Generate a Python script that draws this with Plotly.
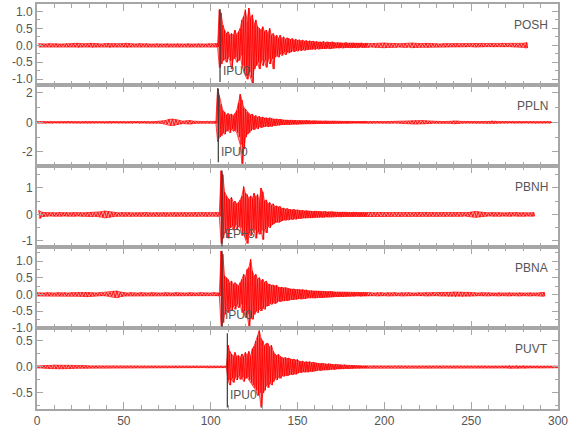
import plotly.graph_objects as go
from plotly.subplots import make_subplots

# ---------------- data ----------------
stations = ["POSH", "PPLN", "PBNH", "PBNA", "PUVT"]
phase_labels = ["IPU0", "IPU0", "EP+3", "IPU0", "IPU0"]
pick_times = [105.4, 104.4, 106.5, 106.5, 109.6]
pick_low = [-1.08, -2.7, -1.2, -0.97, -0.78]
pick_high = [1.07, 2.27, 1.66, 1.31, 0.65]
label_y = [-0.77, -1.99, -0.73, -0.62, -0.54]

y_low = [-1.17, -2.95, -1.23, -1.01, -0.81]
y_high = [1.22, 2.52, 1.83, 1.42, 0.75]
ytick_vals = [[-1, -0.5, 0, 0.5, 1], [-2, 0, 2], [-1, 0, 1], [-1, -0.5, 0, 0.5, 1], [-0.5, 0, 0.5]]
ytick_text = [["-1.0", "-0.5", "0.0", "0.5", "1.0"], ["-2", "0", "2"], ["-1", "0", "1"],
              ["-1.0", "-0.5", "0.0", "0.5", "1.0"], ["-0.5", "0.0", "0.5"]]
ytick_minor = [0.25, 1, 0.5, 0.25, 0.25]
x_ticks = [0, 50, 100, 150, 200, 250, 300]

# sample-time windows: quiet part before (2 s), active part (1 s), quiet part after (2 s)
pre_start = [1, 0, 1, 0, 0]
act_start = [104, 103, 105, 105, 108]
act_end = [189, 189, 189, 189, 189]
post_end = [283, 297, 287, 293, 301]

# ---- POSH ----
POSH_pre = [0.05, 0.04, 0.04, 0.05, 0.04, 0.05, 0.04, 0.04, 0.05, 0.04,
            0.05, 0.06, 0.05, 0.04, 0.05, 0.06, 0.05, 0.05, 0.04, 0.05,
            0.06, 0.05, 0.05, 0.04, 0.05, 0.06, 0.05, 0.04, 0.04, 0.05,
            0.04, 0.05, 0.04, 0.04, 0.05, 0.04, 0.04, 0.05, 0.04, 0.04,
            0.05, 0.04, 0.04, 0.05, 0.04, 0.04, 0.05, 0.04, 0.04, 0.05,
            0.04, 0.05]
POSH_up = [0.05, 1.05, 0.95, 0.6, 0.45, 0.35, 0.4, 0.3, 0.35, 0.3,
           0.45, 0.3, 0.4, 0.5, 0.75, 0.85, 1.05, 0.7, 1.1, 0.8,
           0.9, 0.6, 0.75, 0.55, 0.5, 0.45, 0.55, 0.4, 0.45, 0.35,
           0.5, 0.3, 0.35, 0.25, 0.3, 0.2, 0.3, 0.2, 0.25, 0.18,
           0.22, 0.2, 0.17, 0.2, 0.15, 0.18, 0.14, 0.16, 0.13, 0.15,
           0.12, 0.14, 0.11, 0.13, 0.11, 0.12, 0.1,
           0.11, 0.09, 0.1, 0.09, 0.11, 0.08, 0.1, 0.09, 0.08, 0.1,
           0.08, 0.07, 0.08, 0.07, 0.08, 0.06, 0.07, 0.08, 0.06, 0.07,
           0.06, 0.07, 0.06, 0.07, 0.06, 0.06, 0.07, 0.05, 0.06]
POSH_dn = [-0.05, -0.65, -0.55, -0.45, -0.4, -0.5, -0.35, -0.45, -0.7, -0.4,
           -0.35, -0.5, -0.45, -0.3, -0.6, -0.75, -0.9, -1.0, -0.8, -0.95,
           -1.12, -0.7, -0.6, -0.5, -0.7, -0.45, -0.6, -0.45, -0.65, -0.4,
           -0.55, -0.4, -0.7, -0.35, -0.3, -0.35, -0.25, -0.3, -0.2, -0.28,
           -0.2, -0.22, -0.2, -0.16, -0.19, -0.15, -0.17, -0.13, -0.16, -0.12,
           -0.15, -0.12, -0.13, -0.11, -0.12, -0.1, -0.12,
           -0.09, -0.11, -0.09, -0.1, -0.09, -0.1, -0.08, -0.1, -0.09, -0.08,
           -0.07, -0.08, -0.07, -0.08, -0.06, -0.08, -0.07, -0.06, -0.07, -0.06,
           -0.07, -0.06, -0.06, -0.06, -0.07, -0.05, -0.06, -0.06, -0.05]
POSH_post = [0.06, 0.05, 0.06, 0.05, 0.06, 0.07, 0.06, 0.05, 0.06, 0.05,
             0.05, 0.06, 0.05, 0.07, 0.06, 0.05, 0.05, 0.06, 0.05, 0.05,
             0.05, 0.04, 0.05, 0.05, 0.04, 0.05, 0.05, 0.04, 0.05, 0.04,
             0.04, 0.05, 0.04, 0.05, 0.04, 0.04, 0.05, 0.04, 0.04, 0.05,
             0.04, 0.04, 0.05, 0.04, 0.05, 0.06, 0.08]

# ---- PPLN ----
PPLN_pre = [0.05, 0.04, 0.05, 0.04, 0.05, 0.04, 0.04, 0.05, 0.04, 0.05,
            0.04, 0.05, 0.04, 0.04, 0.05, 0.04, 0.05, 0.04, 0.04, 0.05,
            0.04, 0.05, 0.04, 0.05, 0.04, 0.05, 0.04, 0.05, 0.04, 0.05,
            0.04, 0.05, 0.05, 0.04, 0.05, 0.06, 0.08, 0.12, 0.2, 0.22,
            0.18, 0.12, 0.08, 0.1, 0.12, 0.08, 0.06, 0.05, 0.05, 0.06,
            0.05, 0.06]
PPLN_up = [0.06, 2.3, 1.8, 1.2, 0.8, 0.7, 0.5, 0.6, 0.5, 0.55,
           0.45, 0.6, 0.8, 1.3, 1.9, 1.5, 1.0, 0.9, 0.7, 0.6,
           0.5, 0.55, 0.4, 0.45, 0.35, 0.4, 0.3, 0.35, 0.28, 0.3,
           0.25, 0.3, 0.25, 0.22, 0.2, 0.22, 0.18, 0.2,
           0.16, 0.15, 0.14, 0.16, 0.13, 0.14, 0.12, 0.13, 0.12, 0.11,
           0.12, 0.1, 0.11, 0.1, 0.12, 0.1, 0.11, 0.09, 0.1, 0.09,
           0.09, 0.08, 0.09, 0.08, 0.08, 0.09, 0.07, 0.08, 0.07, 0.08,
           0.07, 0.08, 0.06, 0.07, 0.06, 0.07, 0.06, 0.06, 0.07, 0.06,
           0.05, 0.06, 0.05, 0.06, 0.05, 0.06, 0.05, 0.05, 0.06]
PPLN_dn = [-0.06, -1.3, -1.0, -0.9, -0.7, -0.8, -0.6, -0.5, -0.7, -0.45,
           -0.6, -0.55, -0.7, -1.0, -1.5, -2.8, -1.8, -1.0, -0.8, -0.7,
           -0.55, -0.45, -0.5, -0.35, -0.45, -0.3, -0.35, -0.3, -0.3, -0.25,
           -0.3, -0.25, -0.28, -0.2, -0.22, -0.18, -0.2, -0.17,
           -0.15, -0.16, -0.13, -0.14, -0.15, -0.12, -0.14, -0.12, -0.13, -0.12,
           -0.1, -0.12, -0.1, -0.11, -0.1, -0.1, -0.09, -0.1, -0.09, -0.1,
           -0.08, -0.09, -0.08, -0.08, -0.09, -0.07, -0.08, -0.07, -0.08, -0.07,
           -0.07, -0.06, -0.07, -0.06, -0.07, -0.06, -0.06, -0.07, -0.06, -0.05,
           -0.06, -0.05, -0.06, -0.05, -0.05, -0.05, -0.06, -0.05, -0.05]
PPLN_post = [0.05, 0.06, 0.05, 0.05, 0.06, 0.05, 0.05, 0.06, 0.05, 0.06,
             0.06, 0.07, 0.09, 0.11, 0.12, 0.1, 0.12, 0.1, 0.08, 0.06,
             0.05, 0.06, 0.05, 0.06, 0.07, 0.1, 0.09, 0.06, 0.05, 0.05,
             0.05, 0.06, 0.05, 0.05, 0.06, 0.07, 0.1, 0.07, 0.05, 0.05,
             0.05, 0.04, 0.05, 0.04, 0.05, 0.04, 0.05, 0.04, 0.05, 0.04,
             0.05, 0.04, 0.05, 0.04]

# ---- PBNH ----
PBNH_pre = [0.15, 0.08, 0.07, 0.06, 0.07, 0.06, 0.07, 0.06, 0.07, 0.06,
            0.07, 0.06, 0.07, 0.06, 0.07, 0.08, 0.07, 0.08, 0.1, 0.13,
            0.11, 0.09, 0.07, 0.06, 0.07, 0.06, 0.07, 0.06, 0.06, 0.07,
            0.06, 0.07, 0.06, 0.06, 0.07, 0.06, 0.07, 0.06, 0.06, 0.07,
            0.06, 0.06, 0.07, 0.06, 0.06, 0.07, 0.06, 0.06, 0.07, 0.06,
            0.06, 0.07]
PBNH_up = [0.07, 1.65, 1.5, 0.85, 0.7, 0.6, 0.55, 0.65, 0.45, 0.5,
           0.4, 0.45, 0.55, 0.7, 1.05, 0.8, 0.75, 0.6, 0.7, 0.6,
           0.8, 0.65, 0.75, 0.5, 1.0, 0.85, 0.5, 0.55, 0.4, 0.45,
           0.35, 0.4, 0.3, 0.32, 0.28, 0.3,
           0.22, 0.24, 0.2, 0.22, 0.19,
           0.18, 0.17, 0.19, 0.16, 0.17,
           0.15, 0.14, 0.15, 0.13, 0.14, 0.13, 0.12, 0.13, 0.11, 0.12,
           0.11, 0.1, 0.11, 0.1, 0.1, 0.11, 0.09, 0.1, 0.09, 0.1,
           0.09, 0.08, 0.09, 0.08, 0.08, 0.09, 0.08, 0.08, 0.07, 0.08,
           0.07, 0.08, 0.07, 0.08, 0.07, 0.07, 0.08, 0.07, 0.07]
PBNH_dn = [-0.07, -1.1, -0.9, -0.7, -0.6, -0.9, -0.5, -0.45, -0.6, -0.4,
           -0.55, -0.45, -0.5, -0.8, -0.7, -0.95, -1.1, -0.7, -0.8, -0.55,
           -0.6, -0.9, -0.65, -0.75, -0.6, -0.95, -0.55, -0.7, -0.45, -0.5,
           -0.4, -0.35, -0.32, -0.28, -0.3, -0.26,
           -0.24, -0.2, -0.22, -0.19, -0.21,
           -0.17, -0.19, -0.16, -0.18, -0.15,
           -0.14, -0.15, -0.13, -0.14, -0.13, -0.12, -0.13, -0.12, -0.12, -0.11,
           -0.1, -0.11, -0.1, -0.1, -0.11, -0.09, -0.1, -0.09, -0.1, -0.09,
           -0.08, -0.09, -0.08, -0.08, -0.09, -0.08, -0.08, -0.07, -0.08, -0.07,
           -0.08, -0.07, -0.07, -0.07, -0.08, -0.07, -0.07, -0.07, -0.08]
PBNH_post = [0.07, 0.08, 0.07, 0.07, 0.08, 0.07, 0.07, 0.06, 0.07, 0.07,
             0.06, 0.07, 0.07, 0.06, 0.07, 0.07, 0.06, 0.07, 0.06, 0.07,
             0.07, 0.06, 0.07, 0.06, 0.07, 0.06, 0.07, 0.07, 0.06, 0.07,
             0.09, 0.11, 0.1, 0.08, 0.07, 0.06, 0.07, 0.06, 0.07, 0.06,
             0.06, 0.07, 0.06, 0.07, 0.06, 0.07, 0.06, 0.06, 0.07]

# ---- PBNA ----
PBNA_pre = [0.05, 0.04, 0.04, 0.05, 0.04, 0.04, 0.05, 0.04, 0.05, 0.04,
            0.05, 0.05, 0.06, 0.06, 0.07, 0.06, 0.05, 0.04, 0.05, 0.04,
            0.05, 0.06, 0.09, 0.1, 0.07, 0.05, 0.04, 0.05, 0.04, 0.04,
            0.05, 0.04, 0.04, 0.05, 0.04, 0.04, 0.04, 0.05, 0.04, 0.04,
            0.05, 0.04, 0.04, 0.04, 0.05, 0.04, 0.04, 0.05, 0.04, 0.04,
            0.04, 0.05, 0.04]
PBNA_up = [0.04, 1.3, 1.2, 0.55, 0.5, 0.45, 0.35, 0.4, 0.3, 0.35,
           0.3, 0.25, 0.35, 0.45, 0.6, 0.5, 0.75, 0.8, 1.05, 0.7,
           0.55, 0.6, 0.45, 0.5, 0.4, 0.45, 0.35, 0.4, 0.3,
           0.3, 0.27, 0.28, 0.25, 0.27,
           0.22, 0.2, 0.21, 0.19, 0.2, 0.18, 0.17,
           0.16, 0.15, 0.16, 0.14, 0.15, 0.14, 0.13, 0.14, 0.12, 0.13,
           0.11, 0.1, 0.11, 0.1, 0.1, 0.09, 0.1, 0.09, 0.09, 0.08,
           0.09, 0.08, 0.08, 0.09, 0.08,
           0.07, 0.07, 0.06, 0.07, 0.06, 0.06, 0.07, 0.06, 0.06, 0.05,
           0.06, 0.05, 0.06, 0.05, 0.06, 0.05, 0.05, 0.06, 0.05]
PBNA_dn = [-0.05, -0.98, -0.85, -0.6, -0.45, -0.55, -0.4, -0.5, -0.35, -0.45,
           -0.3, -0.4, -0.3, -0.55, -0.5, -0.7, -0.6, -0.95, -0.7, -0.75,
           -0.6, -0.5, -0.55, -0.45, -0.5, -0.4, -0.45, -0.35, -0.35,
           -0.27, -0.3, -0.25, -0.28, -0.24,
           -0.2, -0.22, -0.19, -0.2, -0.18, -0.19, -0.18,
           -0.15, -0.16, -0.14, -0.15, -0.14, -0.13, -0.14, -0.12, -0.13, -0.12,
           -0.1, -0.11, -0.1, -0.1, -0.11, -0.1, -0.09, -0.09, -0.1, -0.09,
           -0.08, -0.09, -0.08, -0.08, -0.08,
           -0.07, -0.06, -0.07, -0.06, -0.06, -0.07, -0.06, -0.06, -0.05, -0.06,
           -0.05, -0.06, -0.05, -0.05, -0.05, -0.06, -0.05, -0.05, -0.05]
PBNA_post = [0.05, 0.05, 0.04, 0.05, 0.05, 0.04, 0.05, 0.04, 0.05, 0.04,
             0.05, 0.04, 0.05, 0.04, 0.04, 0.05, 0.04, 0.05, 0.04, 0.05,
             0.04, 0.05, 0.05, 0.06, 0.06, 0.07, 0.06, 0.07, 0.06, 0.06,
             0.05, 0.05, 0.04, 0.05, 0.04, 0.05, 0.04, 0.04, 0.05, 0.04,
             0.04, 0.05, 0.04, 0.04, 0.05, 0.04, 0.04, 0.05, 0.04, 0.04,
             0.05, 0.06]

# ---- PUVT ----
PUVT_pre = [0.02, 0.02, 0.025, 0.03, 0.03, 0.035, 0.035, 0.035, 0.03, 0.035,
            0.03, 0.025, 0.025, 0.025, 0.025, 0.02, 0.02, 0.02, 0.015, 0.015,
            0.015, 0.012, 0.015, 0.012, 0.015, 0.012, 0.012, 0.015, 0.012, 0.012,
            0.012, 0.015, 0.012, 0.012, 0.015, 0.012, 0.012, 0.015, 0.012, 0.012,
            0.015, 0.012, 0.012, 0.015, 0.012, 0.012, 0.015, 0.012, 0.012, 0.015,
            0.012, 0.015, 0.012, 0.015]
PUVT_up = [0.012, 0.015, 0.42, 0.3, 0.25, 0.2, 0.28, 0.2, 0.22, 0.18,
           0.25, 0.2, 0.28, 0.22, 0.3, 0.2, 0.35, 0.4, 0.5, 0.6,
           0.7, 0.55, 0.5, 0.4, 0.45, 0.45, 0.38, 0.42, 0.3,
           0.25, 0.22, 0.24, 0.2,
           0.18, 0.17, 0.18, 0.16, 0.17,
           0.15, 0.14, 0.15, 0.13, 0.14,
           0.11, 0.1, 0.11, 0.09, 0.1, 0.09, 0.1, 0.08, 0.09, 0.08,
           0.07, 0.07, 0.06, 0.07, 0.06, 0.06, 0.05, 0.06, 0.05, 0.05,
           0.04, 0.05, 0.04, 0.04, 0.04, 0.03, 0.04, 0.03, 0.03, 0.03,
           0.025, 0.03, 0.025, 0.025, 0.02, 0.025, 0.02, 0.02, 0.02]
PUVT_dn = [-0.012, -0.015, -0.25, -0.35, -0.22, -0.3, -0.2, -0.25, -0.18, -0.24,
           -0.2, -0.28, -0.22, -0.2, -0.25, -0.3, -0.35, -0.4, -0.45, -0.55,
           -0.5, -0.78, -0.5, -0.45, -0.35, -0.4, -0.3, -0.35, -0.28,
           -0.22, -0.25, -0.2, -0.22,
           -0.17, -0.18, -0.16, -0.17, -0.15,
           -0.14, -0.15, -0.13, -0.14, -0.12,
           -0.1, -0.11, -0.09, -0.1, -0.09, -0.1, -0.08, -0.09, -0.08, -0.08,
           -0.07, -0.06, -0.07, -0.06, -0.06, -0.05, -0.06, -0.05, -0.05, -0.04,
           -0.05, -0.04, -0.04, -0.04, -0.03, -0.04, -0.03, -0.03, -0.03, -0.025,
           -0.03, -0.025, -0.025, -0.02, -0.025, -0.02, -0.02, -0.02, -0.02]
PUVT_post = [0.02, 0.018, 0.02, 0.018, 0.02, 0.018, 0.02, 0.015, 0.018, 0.015,
             0.015, 0.018, 0.015, 0.015, 0.018, 0.015, 0.015, 0.018, 0.015, 0.015,
             0.015, 0.018, 0.015, 0.015, 0.018, 0.015, 0.015, 0.018, 0.015, 0.015,
             0.015, 0.018, 0.015, 0.015, 0.018, 0.015, 0.015, 0.018, 0.015, 0.02,
             0.02, 0.025, 0.02, 0.025, 0.02, 0.025, 0.02, 0.02, 0.018, 0.02,
             0.018, 0.015, 0.018, 0.015, 0.018, 0.015]

pre_amp = [POSH_pre, PPLN_pre, PBNH_pre, PBNA_pre, PUVT_pre]
act_up = [POSH_up, PPLN_up, PBNH_up, PBNA_up, PUVT_up]
act_dn = [POSH_dn, PPLN_dn, PBNH_dn, PBNA_dn, PUVT_dn]
post_amp = [POSH_post, PPLN_post, PBNH_post, PBNA_post, PUVT_post]

# ---------------- figure ----------------
FONT = "Liberation Sans Narrow, Liberation Sans, Arial, sans-serif"
FRAME = "#a6a6a6"
TXT = "#555555"
RED = "#ff0000"

fig = make_subplots(rows=5, cols=1, shared_xaxes=True, vertical_spacing=0)


def zigzag(times, up, dn):
    # peak at each sample time, trough halfway to the next sample
    xs, ys = [], []
    for i, (t, u, d) in enumerate(zip(times, up, dn)):
        nxt = times[i + 1] if i + 1 < len(times) else t + 1
        xs += [t, (t + nxt) / 2]
        ys += [u, d]
    return xs, ys


for k in range(5):
    row = k + 1
    t_pre = list(range(pre_start[k], act_start[k], 2))
    t_act = list(range(act_start[k], act_end[k] + 1))
    t_post = list(range(act_end[k] + 1, post_end[k], 2))
    times = t_pre + t_act + t_post
    up = pre_amp[k] + act_up[k] + post_amp[k]
    dn = [-a for a in pre_amp[k]] + act_dn[k] + [-a for a in post_amp[k]]
    n = min(len(times), len(up), len(dn))
    times, up, dn = times[:n], up[:n], dn[:n]

    # envelope band (whole record)
    fig.add_trace(go.Scatter(x=times + times[::-1], y=up + dn[::-1], mode="lines",
                             fill="toself", fillcolor="rgba(255,0,0,0.38)",
                             line=dict(color=RED, width=0.7),
                             hoverinfo="skip", showlegend=False),
                  row=row, col=1)
    # oscillation strokes over the whole record
    xs, ys = zigzag(times, up, dn)
    fig.add_trace(go.Scatter(x=xs, y=ys, mode="lines",
                             line=dict(color=RED, width=0.9),
                             hoverinfo="skip", showlegend=False),
                  row=row, col=1)

    # pick marker
    fig.add_shape(type="line", x0=pick_times[k], x1=pick_times[k],
                  y0=pick_low[k], y1=pick_high[k],
                  line=dict(color="#3a3a3a", width=1.2), row=row, col=1)
    xref = "x" if row == 1 else f"x{row}"
    yref = "y" if row == 1 else f"y{row}"
    fig.add_annotation(x=pick_times[k], y=label_y[k], xref=xref, yref=yref,
                       text=phase_labels[k], showarrow=False, xanchor="left",
                       yanchor="middle", xshift=1,
                       font=dict(family=FONT, size=12, color=TXT))
    fig.add_annotation(x=0.985, y=0.745, xref=f"{xref} domain", yref=f"{yref} domain",
                       text=stations[k], showarrow=False, xanchor="right",
                       yanchor="middle",
                       font=dict(family=FONT, size=12, color=TXT))

    fig.update_yaxes(range=[y_low[k], y_high[k]], tickvals=ytick_vals[k],
                     ticktext=ytick_text[k], ticks="inside", ticklen=6,
                     tickwidth=1, tickcolor=FRAME,
                     minor=dict(ticks="inside", ticklen=3, dtick=ytick_minor[k],
                                tick0=0, tickcolor=FRAME, tickwidth=1),
                     showline=True, linecolor=FRAME, linewidth=2, mirror="ticks",
                     showgrid=False, zeroline=False, automargin=False,
                     tickfont=dict(family=FONT, size=12, color=TXT),
                     row=row, col=1)
    fig.update_xaxes(range=[0, 300], tickvals=x_ticks, ticks="inside", ticklen=7,
                     tickwidth=1, tickcolor=FRAME,
                     minor=dict(ticks="inside", ticklen=4, dtick=10, tick0=0,
                                tickcolor=FRAME, tickwidth=1),
                     showline=True, linecolor=FRAME, linewidth=2, mirror="ticks",
                     showgrid=False, zeroline=False, automargin=False,
                     tickfont=dict(family=FONT, size=12, color=TXT),
                     row=row, col=1)

fig.update_layout(width=580, height=440, plot_bgcolor="white", paper_bgcolor="white",
                  margin=dict(l=37, r=22, t=4, b=31), showlegend=False)

fig.write_html("out.html", config={"displayModeBar": False},
               post_script="document.body.style.margin='0';")
